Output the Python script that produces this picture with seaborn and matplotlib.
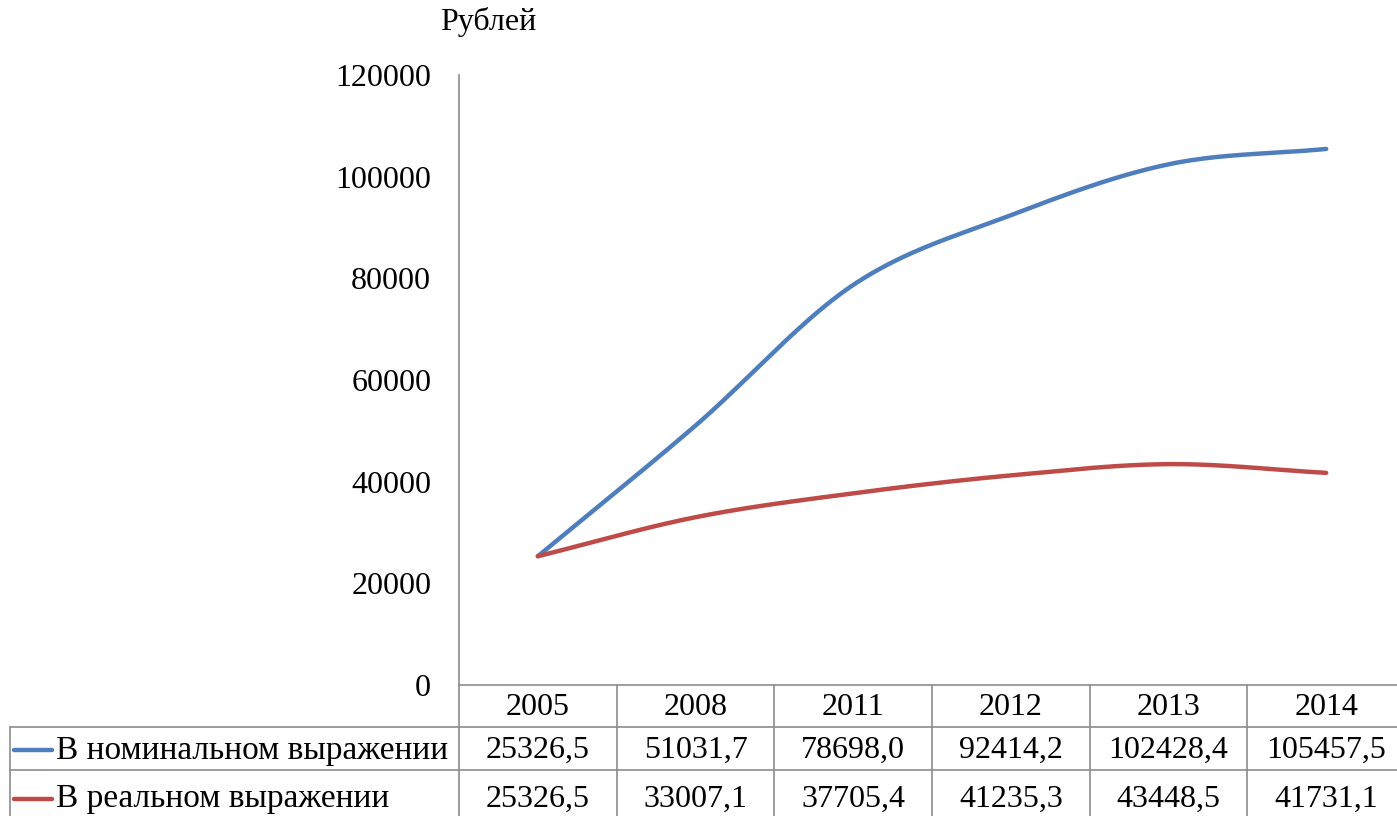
import numpy as np
import pandas as pd
import seaborn as sns
import matplotlib
matplotlib.use("Agg")
import matplotlib.pyplot as plt

years = ["2005", "2008", "2011", "2012", "2013", "2014"]
nominal = [25326.5, 51031.7, 78698.0, 92414.2, 102428.4, 105457.5]
real = [25326.5, 33007.1, 37705.4, 41235.3, 43448.5, 41731.1]
series_names = ["В номинальном выражении", "В реальном выражении"]
series_colors = ["#4F7EBC", "#BE4B48"]
y_ticks = [0, 20000, 40000, 60000, 80000, 100000, 120000]

sns.set_style("white")
plt.rcParams['font.family'] = ['Liberation Serif', 'DejaVu Serif']
plt.rcParams['text.color'] = 'black'
plt.rcParams['ytick.color'] = 'black'
FS = 23


def smooth(vals, n=40):
    # Catmull-Rom curve through the points, like the smoothed line in Excel
    p = np.array(vals, dtype=float)
    p = np.concatenate([[2 * p[0] - p[1]], p, [2 * p[-1] - p[-2]]])
    xs, ys = [], []
    for i in range(1, len(p) - 2):
        t = np.linspace(0, 1, n, endpoint=False)
        p0, p1, p2, p3 = p[i - 1], p[i], p[i + 1], p[i + 2]
        y = 0.5 * (2 * p1 + (-p0 + p2) * t + (2 * p0 - 5 * p1 + 4 * p2 - p3) * t ** 2
                   + (-p0 + 3 * p1 - 3 * p2 + p3) * t ** 3)
        xs.extend(i - 1 + t)
        ys.extend(y)
    xs.append(len(vals) - 1)
    ys.append(vals[-1])
    return np.array(xs), np.array(ys)


W, H = 1397, 816
fig = plt.figure(figsize=(W / 100, H / 100), dpi=100)

ax = fig.add_axes([459 / W, 1 - 685 / H, 946 / W, 610 / H])
frames = []
for name, vals in zip(series_names, [nominal, real]):
    xs, ys = smooth(vals)
    frames.append(pd.DataFrame({"x": xs, "y": ys, "series": name}))
df = pd.concat(frames)
sns.lineplot(data=df, x="x", y="y", hue="series", palette=series_colors,
             linewidth=3.2, ax=ax, legend=False, sort=False)

ax.set_xlim(-0.5, len(years) - 0.5)
ax.set_ylim(0, 120000)
ax.set_yticks(y_ticks)
ax.set_yticklabels([str(v) for v in y_ticks], fontsize=FS, color="black")
ax.tick_params(axis="y", length=0, pad=20)
ax.set_xticks([])
ax.set_xlabel("")
ax.set_ylabel("")
for s in ["top", "right", "bottom"]:
    ax.spines[s].set_visible(False)
ax.spines["left"].set_color("#8c8c8c")
ax.spines["left"].set_linewidth(1.2)
ax.patch.set_alpha(0)

fig.text(440 / W, 1 - 22 / H, "Рублей", fontsize=FS, va="center", ha="left")

# data table under the plot (y in pixel rows: header 685-727, rows 727-770, 770-824)
rows = [685, 727, 770, 824]
unit = 946 / len(years)
lab_w = 449 / unit
tab = fig.add_axes([10 / W, 1 - rows[-1] / H, 1395 / W, (rows[-1] - rows[0]) / H])
tab.set_xlim(-0.5 - lab_w, len(years) - 0.5)
tab.set_ylim(rows[-1], rows[0])
tab.axis("off")
gc = "#8c8c8c"
x0 = -0.5 - lab_w
tab.plot([-0.5, len(years) - 0.5], [rows[0]] * 2, color=gc, lw=1.2, clip_on=False)
for r in rows[1:3]:
    tab.plot([x0, len(years) - 0.5], [r, r], color=gc, lw=1.2, clip_on=False)
for k in range(len(years) + 1):
    tab.plot([k - 0.5, k - 0.5], [rows[0], rows[-1]], color=gc, lw=1.2, clip_on=False)
tab.plot([x0, x0], [rows[1], rows[-1]], color=gc, lw=1.2, clip_on=False)

mid = [(rows[i] + rows[i + 1]) / 2 + 2 for i in range(3)]
for i, yr in enumerate(years):
    tab.text(i, mid[0], yr, ha="center", va="center", fontsize=FS)
for r, (name, vals, c) in enumerate(zip(series_names, [nominal, real], series_colors), start=1):
    tab.plot([x0 + 4 / unit, x0 + 42 / unit], [mid[r], mid[r]], color=c, lw=3.2,
             solid_capstyle="round")
    tab.text(x0 + 46 / unit, mid[r], name, ha="left", va="center", fontsize=24)
    for i, v in enumerate(vals):
        tab.text(i, mid[r], f"{v:.1f}".replace(".", ","), ha="center", va="center", fontsize=FS)

fig.savefig("out.png", dpi=100)
